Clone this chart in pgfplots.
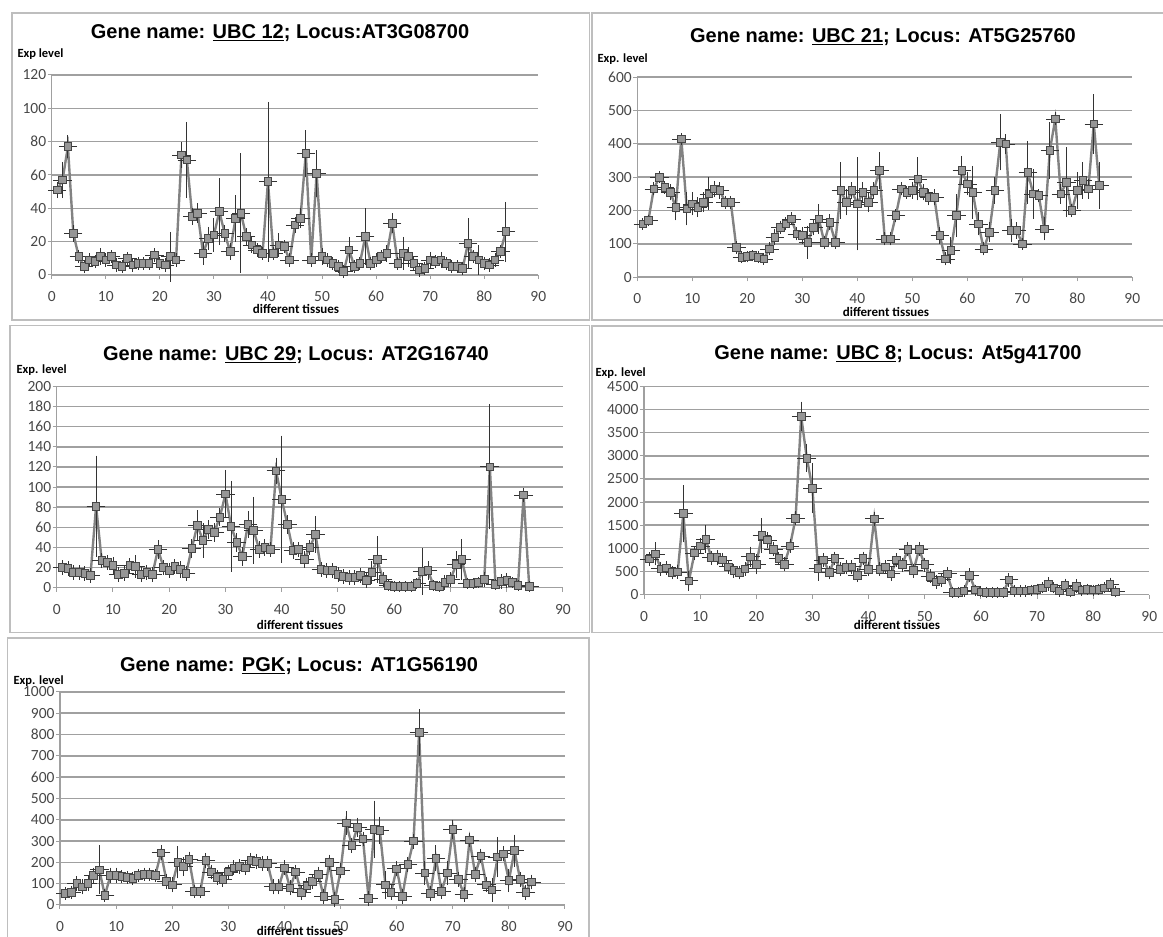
\documentclass[border=0pt]{standalone}
\usepackage{fontspec}
\setmainfont{Carlito}
\newfontfamily\arialf{Liberation Sans}
\usepackage{pgfplots}
\pgfplotsset{compat=1.18}
\usepackage{pgfplotstable}
\definecolor{linegray}{RGB}{130,130,130}
\definecolor{markfill}{RGB}{150,150,150}
\definecolor{markdraw}{RGB}{70,70,70}
\definecolor{gridgray}{RGB}{160,160,160}
\definecolor{framegray}{RGB}{190,190,190}

\pgfplotstableread{
x y e
1 51 3
2 57 9
3 77 5
4 25 3
5 11 2
6 5 2
7 9 2
8 8 2
9 11 3
10 9 2
11 11 2
12 6 2
13 5 2
14 10 2
15 6 2
16 7 2
17 7 2
18 7 2
19 12 2
20 7 2
21 6 2
22 11 13
23 9 2
24 72 6
25 69 21
26 35 3
27 37 4
28 13 5
29 22 5
30 24 8
31 38 18
32 25 3
33 14 3
34 34 12
35 37 34
36 23 3
37 18 3
38 15 2
39 13 2
40 56 46
41 13 2
42 18 5
43 17 2
44 9 2
45 30 3
46 34 4
47 73 12
48 9 2
49 61 12
50 11 3
51 9 2
52 7 2
53 5 2
54 2 2
55 15 6
56 5 2
57 7 2
58 23 15
59 7 2
60 9 2
61 11 2
62 13 3
63 31 4
64 7 2
65 13 8
66 11 4
67 7 2
68 3 2
69 4 2
70 9 3
71 8 2
72 9 3
73 7 2
74 5 2
75 5 2
76 4 2
77 19 13
78 11 2
79 9 7
80 7 2
81 6 2
82 9 2
83 14 2
84 26 16
}\tubca

\pgfplotstableread{
x y e
1 160 8
2 170 8
3 265 10
4 300 8
5 270 10
6 255 15
7 210 30
8 415 8
9 205 40
10 220 25
11 210 20
12 225 20
13 250 40
14 265 15
15 260 15
16 225 10
17 225 10
18 90 10
19 60 8
20 62 8
21 65 8
22 60 8
23 55 8
24 85 10
25 120 15
26 150 10
27 160 10
28 175 10
29 130 10
30 125 15
31 105 40
32 150 15
33 175 35
34 105 10
35 165 15
36 105 10
37 260 75
38 225 30
39 260 15
40 220 130
41 255 20
42 225 20
43 260 15
44 320 45
45 115 10
46 115 10
47 185 10
48 265 10
49 255 10
50 260 15
51 295 55
52 255 15
53 240 15
54 240 15
55 125 15
56 55 10
57 80 30
58 185 55
59 320 35
60 280 25
61 255 70
62 160 25
63 85 10
64 135 20
65 260 30
66 405 75
67 400 20
68 140 25
69 140 15
70 100 8
71 315 85
72 250 65
73 245 10
74 145 25
75 380 75
76 475 10
77 250 20
78 285 95
79 200 10
80 260 45
81 290 45
82 265 20
83 460 80
84 275 60
}\tubcb

\pgfplotstableread{
x y e
1 20 4
2 19 4
3 15 4
4 15 4
5 14 4
6 12 4
7 81 47
8 27 4
9 25 4
10 22 5
11 13 4
12 14 4
13 22 4
14 21 8
15 13 4
16 15 4
17 13 4
18 38 6
19 20 4
20 17 4
21 21 4
22 18 5
23 14 4
24 39 6
25 62 12
26 47 14
27 58 6
28 55 6
29 70 6
30 93 21
31 61 42
32 45 6
33 31 6
34 63 10
35 57 30
36 38 5
37 40 5
38 38 4
39 116 10
40 88 60
41 63 6
42 37 5
43 38 4
44 28 5
45 40 4
46 53 15
47 18 4
48 17 4
49 17 4
50 13 4
51 11 4
52 10 4
53 10 4
54 12 4
55 7 4
56 15 8
57 28 20
58 8 4
59 2 2
60 1 2
61 1 2
62 1 2
63 1 2
64 4 2
65 16 20
66 17 6
67 2 2
68 1 2
69 5 4
70 8 4
71 23 10
72 28 17
73 4 2
74 4 2
75 5 2
76 8 4
77 120 59
78 3 2
79 6 4
80 7 4
81 5 2
82 2 2
83 92 4
84 1 2
}\tubcc

\pgfplotstableread{
x y e
1 770 80
2 880 180
3 560 80
4 580 80
5 480 80
6 490 80
7 1750 550
8 300 150
9 900 80
10 1050 100
11 1200 230
12 800 80
13 800 100
14 750 80
15 600 80
16 520 80
17 480 80
18 560 80
19 820 150
20 660 150
21 1280 300
22 1180 100
23 980 80
24 780 80
25 660 80
26 1050 80
27 1650 80
28 3850 250
29 2950 230
30 2300 470
31 570 200
32 750 80
33 480 80
34 780 80
35 550 80
36 590 80
37 600 80
38 420 80
39 780 80
40 550 80
41 1640 80
42 550 80
43 600 80
44 450 80
45 750 80
46 650 80
47 980 80
48 520 80
49 980 80
50 650 80
51 400 80
52 280 80
53 320 80
54 450 80
55 50 50
56 50 50
57 80 50
58 420 80
59 100 50
60 60 50
61 50 50
62 50 50
63 50 50
64 50 50
65 320 80
66 80 50
67 80 50
68 80 50
69 100 50
70 120 50
71 150 50
72 230 80
73 150 50
74 80 50
75 200 80
76 60 50
77 180 80
78 100 50
79 120 50
80 100 50
81 120 50
82 150 50
83 220 80
84 60 50
}\tubcd

\pgfplotstableread{
x y e
1 55 15
2 60 15
3 100 20
4 85 20
5 100 20
6 140 20
7 165 100
8 45 15
9 140 20
10 140 20
11 135 15
12 130 15
13 125 15
14 140 15
15 145 15
16 145 15
17 140 15
18 245 20
19 110 20
20 95 20
21 200 60
22 180 30
23 215 20
24 65 15
25 65 15
26 210 20
27 155 20
28 130 20
29 120 20
30 155 20
31 175 20
32 180 20
33 175 20
34 210 20
35 205 20
36 195 20
37 195 20
38 85 20
39 85 20
40 175 20
41 80 20
42 155 20
43 60 20
44 90 20
45 110 20
46 145 20
47 40 20
48 200 20
49 25 20
50 160 20
51 385 40
52 280 20
53 365 30
54 310 20
55 30 20
56 355 120
57 350 50
58 95 50
59 60 20
60 170 20
61 40 20
62 190 20
63 300 20
64 810 95
65 150 40
66 55 20
67 220 45
68 65 20
69 150 40
70 355 30
71 120 20
72 50 20
73 305 20
74 145 20
75 230 20
76 95 20
77 70 40
78 225 80
79 240 20
80 115 40
81 255 60
82 120 20
83 60 20
84 108 20
}\tpgk

\newcommand{\tkfont}{\fontsize{15.5}{16}\selectfont}
\pgfplotsset{
  panel/.style={
    scale only axis, anchor=south west,
    xmin=0, xmax=90, ymin=0,
    axis x line*=bottom, axis y line*=left,
    axis line style={draw=gridgray, line width=1.2pt},
    ymajorgrids, grid style={draw=gridgray, line width=1.6pt},
    xtick={0,10,20,30,40,50,60,70,80,90},
    xticklabels={0,10,20,30,40,50,60,70,80,90},
    tick style={draw=gridgray, line width=1pt},
    tick align=outside, major tick length=4pt,
    tick label style={font=\tkfont, text=black!72},
    xticklabel style={yshift=-8pt, text height=11pt, text depth=0pt},
    yticklabel={\tkfont\pgfmathprintnumber[assume math mode=true, 1000 sep={}, fixed, precision=0]{\tick}},
    yticklabel style={xshift=2pt},
    /pgf/number format/assume math mode=true,
    /pgf/number format/1000 sep={},
    scaled y ticks=false, clip=false,
  },
  ser/.style={color=linegray, line width=2.4pt, mark=square*, mark size=3.8pt,
    mark options={fill=markfill, draw=markdraw, line width=0.8pt},
    error bars/.cd, x dir=both, x fixed=1.1, y dir=both, y explicit,
    error bar style={draw=black!80, line width=0.9pt},
    error mark options={draw=black!80, line width=0.9pt, mark size=3.2pt}},
}
\newcommand{\ttl}[1]{\arialf\bfseries\fontsize{20}{20}\selectfont #1}
\newcommand{\ylab}{\bfseries\fontsize{12.5}{12.5}\selectfont}
\newcommand{\xlab}{\bfseries\fontsize{13}{13}\selectfont}

\begin{document}
\begin{tikzpicture}
\path[use as bounding box] (0pt,0pt) rectangle (1163pt,937pt);
% frames
\draw[framegray, line width=1.6pt] (11.7pt,924pt) rectangle (589.5pt,617pt);
\draw[framegray, line width=1.6pt] (592pt,924pt) rectangle (1175pt,617pt);
\draw[framegray, line width=1.6pt] (10pt,611.3pt) rectangle (589.5pt,304.3pt);
\draw[framegray, line width=1.6pt] (592pt,611pt) rectangle (1175pt,304.3pt);
\draw[framegray, line width=1.6pt] (7.3pt,298.7pt) rectangle (589pt,-10pt);

% Panel 1
\begin{axis}[panel, at={(51.7pt,662pt)}, width=486.6pt, height=200pt, ymax=120, ytick={0,20,40,60,80,100,120}]
\addplot+[ser] table[x=x, y=y, y error=e] {\tubca};
\end{axis}
\node at (280pt,904pt) {\ttl{Gene name: \underline{UBC 12}; Locus:AT3G08700}};
\node[anchor=west, font=\ylab] at (14pt,883pt) {Exp level};
\node[font=\xlab] at (296pt,628pt) {different tissues};

% Panel 2
\begin{axis}[panel, at={(637.3pt,659.7pt)}, width=495pt, height=200pt, ymax=600, ytick={0,100,200,300,400,500,600}]
\addplot+[ser] table[x=x, y=y, y error=e] {\tubcb};
\end{axis}
\node at (883pt,900pt) {\ttl{Gene name: \underline{UBC 21}; Locus: AT5G25760}};
\node[anchor=west, font=\ylab] at (594pt,878pt) {Exp. level};
\node[font=\xlab] at (886pt,625pt) {different tissues};

% Panel 3
\begin{axis}[panel, at={(56.7pt,349.3pt)}, width=506.3pt, height=201.3pt, ymax=200, ytick={0,20,40,60,80,100,120,140,160,180,200}]
\addplot+[ser] table[x=x, y=y, y error=e] {\tubcc};
\end{axis}
\node at (296pt,582pt) {\ttl{Gene name: \underline{UBC 29}; Locus: AT2G16740}};
\node[anchor=west, font=\ylab] at (13pt,567pt) {Exp. level};
\node[font=\xlab] at (300pt,312pt) {different tissues};

% Panel 4
\begin{axis}[panel, at={(644pt,342.3pt)}, width=505.3pt, height=208.3pt, ymax=4500, ytick={0,500,1000,1500,2000,2500,3000,3500,4000,4500}]
\addplot+[ser] table[x=x, y=y, y error=e] {\tubcd};
\end{axis}
\node at (898pt,582pt) {\ttl{Gene name: \underline{UBC 8}; Locus: At5g41700}};
\node[anchor=west, font=\ylab] at (592pt,564pt) {Exp. level};
\node[font=\xlab] at (897pt,312pt) {different tissues};

% Panel 5
\begin{axis}[panel, at={(60pt,32pt)}, width=505pt, height=213pt, ymax=1000, ytick={0,100,200,300,400,500,600,700,800,900,1000}]
\addplot+[ser] table[x=x, y=y, y error=e] {\tpgk};
\end{axis}
\node at (299pt,271pt) {\ttl{Gene name: \underline{PGK}; Locus: AT1G56190}};
\node[anchor=west, font=\ylab] at (10pt,256pt) {Exp. level};
\node[font=\xlab] at (300pt,6pt) {different tissues};
\end{tikzpicture}
\end{document}
